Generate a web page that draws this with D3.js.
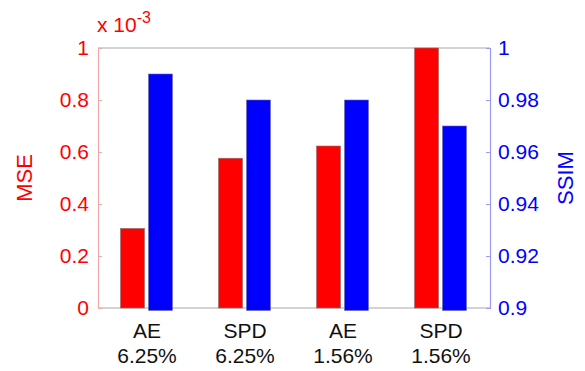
<!DOCTYPE html>
<html>
<head>
<meta charset="utf-8">
<script src="https://cdn.jsdelivr.net/npm/d3@7"></script>
<style>
  html, body { margin: 0; padding: 0; background: #fff; }
  svg { display: block; font-family: "Liberation Sans", Arial, sans-serif; }
</style>
</head>
<body>
<svg id="chart" width="585" height="371"></svg>
<script>
// Methods and sampling rates shown on the x axis (two lines each)
const methods = ["AE", "SPD", "AE", "SPD"];
const rates = ["6.25%", "6.25%", "1.56%", "1.56%"];
// MSE values in units of 1e-3 (left axis)
const mseValues = [0.306, 0.576, 0.623, 1.0];
// SSIM values (right axis)
const ssimValues = [0.99, 0.98, 0.98, 0.97];
// Tick labels for both axes
const mseTicks = [0, 0.2, 0.4, 0.6, 0.8, 1];
const ssimTicks = [0.9, 0.92, 0.94, 0.96, 0.98, 1];
const series = ["MSE", "SSIM"];

const svg = d3.select("#chart");
const margin = { left: 98, right: 95, top: 48, bottom: 63 };
const W = 585, H = 371;
const plotW = W - margin.left - margin.right;
const plotH = H - margin.top - margin.bottom;

const red = "#ff0000", blue = "#0000ff";

const groups = d3.range(methods.length);
const x = d3.scaleBand().domain(groups).range([0, plotW]).padding(0);
const xInner = d3.scaleBand().domain(series)
  .range([x.bandwidth() * 0.23, x.bandwidth() * 0.76]).paddingInner(0.143);
const yL = d3.scaleLinear().domain([0, 1]).range([plotH, 0]);
const yR = d3.scaleLinear().domain([0.9, 1]).range([plotH, 0]);

const g = svg.append("g").attr("transform", `translate(${margin.left},${margin.top})`);

// Frame: top and bottom in gray
g.append("line").attr("x1", 0).attr("x2", plotW).attr("y1", 0).attr("y2", 0)
  .attr("stroke", "#a8a8a8").attr("stroke-width", 1.2);
g.append("line").attr("x1", 0).attr("x2", plotW).attr("y1", plotH).attr("y2", plotH)
  .attr("stroke", "#a8a8a8").attr("stroke-width", 1.2);

// Bars
const grp = g.selectAll("g.grp").data(groups).join("g")
  .attr("class", "grp")
  .attr("transform", d => `translate(${x(d)},0)`);

grp.append("rect")
  .attr("x", xInner("MSE"))
  .attr("width", xInner.bandwidth())
  .attr("y", d => yL(mseValues[d]))
  .attr("height", d => yL(0) - yL(mseValues[d]))
  .attr("fill", red).attr("stroke", "#8a6a6a").attr("stroke-width", 0.6);

// SSIM bars sit on the right axis baseline and overhang the frame slightly
grp.append("rect")
  .attr("x", xInner("SSIM"))
  .attr("width", xInner.bandwidth())
  .attr("y", d => yR(ssimValues[d]))
  .attr("height", d => yR(0.9) - yR(ssimValues[d]) + 2.5)
  .attr("fill", blue).attr("stroke", "#6a6a9a").attr("stroke-width", 0.6);

// Left axis (MSE)
const leftAxis = d3.axisLeft(yL).tickValues(mseTicks)
  .tickFormat(d => d3.format("~g")(d)).tickSize(-4).tickPadding(9);
const gl = g.append("g").call(leftAxis);
gl.select(".domain").attr("stroke", "#f2a8a8").attr("stroke-width", 1.2);
gl.selectAll(".tick line").attr("stroke", "#f2a8a8");
gl.selectAll(".tick text").attr("fill", red).attr("font-size", 21)
  .attr("font-family", "Liberation Sans, Arial, sans-serif");

// Right axis (SSIM)
const rightAxis = d3.axisRight(yR).tickValues(ssimTicks)
  .tickFormat(d => d3.format("~g")(d)).tickSize(-4).tickPadding(8);
const gr = g.append("g").attr("transform", `translate(${plotW},0)`).call(rightAxis);
gr.select(".domain").attr("stroke", "#9a9af0").attr("stroke-width", 1.2);
gr.selectAll(".tick line").attr("stroke", "#9a9af0");
gr.selectAll(".tick text").attr("fill", blue).attr("font-size", 21)
  .attr("font-family", "Liberation Sans, Arial, sans-serif");

// Category labels below the plot
const lab = g.selectAll("text.cat").data(groups).join("text")
  .attr("class", "cat")
  .attr("text-anchor", "middle")
  .attr("font-size", 21)
  .attr("fill", "#111");
lab.append("tspan").attr("x", d => x(d) + x.bandwidth() / 2).attr("y", plotH + 30)
  .text(d => methods[d]);
lab.append("tspan").attr("x", d => x(d) + x.bandwidth() / 2).attr("y", plotH + 55)
  .text(d => rates[d]);

// Exponent label for the MSE axis
const ex = svg.append("text").attr("x", margin.left - 1).attr("y", 32)
  .attr("fill", red).attr("font-size", 21);
ex.append("tspan").text("x 10");
ex.append("tspan").attr("font-size", 16).attr("dy", -9).text("-3");

// Axis titles
svg.append("text")
  .attr("transform", `translate(32,${margin.top + plotH / 2}) rotate(-90)`)
  .attr("text-anchor", "middle").attr("fill", red).attr("font-size", 22)
  .text("MSE");
svg.append("text")
  .attr("transform", `translate(573,${margin.top + plotH / 2}) rotate(-90)`)
  .attr("text-anchor", "middle").attr("fill", blue).attr("font-size", 22)
  .text("SSIM");
</script>
</body>
</html>
